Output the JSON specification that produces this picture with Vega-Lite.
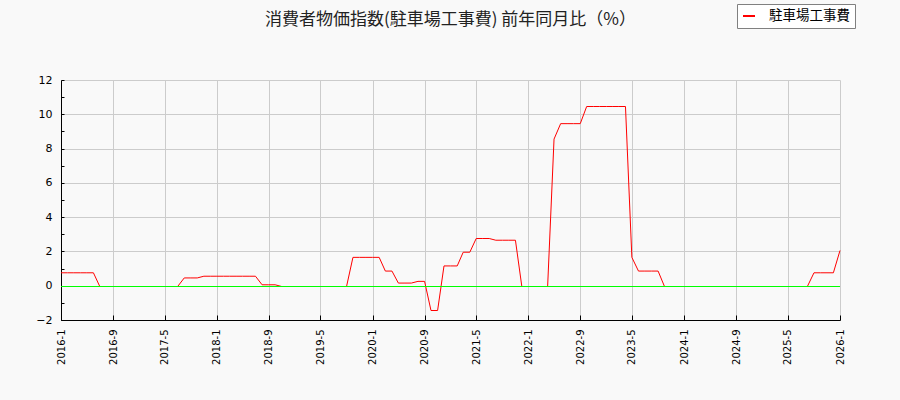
{
  "$schema": "https://vega.github.io/schema/vega-lite/v6.json",
  "width": 779,
  "height": 240,
  "autosize": "none",
  "padding": {"left": 61, "top": 80, "right": 60, "bottom": 80},
  "background": "#f9f9f9",
  "title": {
    "text": "消費者物価指数(駐車場工事費) 前年同月比（%）",
    "font": "Noto Sans CJK JP",
    "fontSize": 17,
    "fontWeight": "normal",
    "color": "#222222",
    "anchor": "middle",
    "offset": 0,
    "dy": 25
  },
  "config": {
    "view": {"stroke": null},
    "axis": {
      "labelFont": "DejaVu Sans",
      "labelColor": "#000000",
      "domainColor": "#000000",
      "tickColor": "#000000",
      "gridColor": "#cccccc",
      "gridWidth": 1,
      "titleFont": "DejaVu Sans"
    }
  },
  "data": {
    "values": [
      {"date": "2016/01/01", "value": 0.8},
      {"date": "2016/02/01", "value": 0.8},
      {"date": "2016/03/01", "value": 0.8},
      {"date": "2016/04/01", "value": 0.8},
      {"date": "2016/05/01", "value": 0.8},
      {"date": "2016/06/01", "value": 0.8},
      {"date": "2016/07/01", "value": 0},
      {"date": "2016/08/01", "value": 0},
      {"date": "2016/09/01", "value": 0},
      {"date": "2016/10/01", "value": 0},
      {"date": "2016/11/01", "value": 0},
      {"date": "2016/12/01", "value": 0},
      {"date": "2017/01/01", "value": 0},
      {"date": "2017/02/01", "value": 0},
      {"date": "2017/03/01", "value": 0},
      {"date": "2017/04/01", "value": 0},
      {"date": "2017/05/01", "value": 0},
      {"date": "2017/06/01", "value": 0},
      {"date": "2017/07/01", "value": 0},
      {"date": "2017/08/01", "value": 0.5},
      {"date": "2017/09/01", "value": 0.5},
      {"date": "2017/10/01", "value": 0.5},
      {"date": "2017/11/01", "value": 0.6},
      {"date": "2017/12/01", "value": 0.6},
      {"date": "2018/01/01", "value": 0.6},
      {"date": "2018/02/01", "value": 0.6},
      {"date": "2018/03/01", "value": 0.6},
      {"date": "2018/04/01", "value": 0.6},
      {"date": "2018/05/01", "value": 0.6},
      {"date": "2018/06/01", "value": 0.6},
      {"date": "2018/07/01", "value": 0.6},
      {"date": "2018/08/01", "value": 0.1},
      {"date": "2018/09/01", "value": 0.1},
      {"date": "2018/10/01", "value": 0.1},
      {"date": "2018/11/01", "value": 0},
      {"date": "2018/12/01", "value": 0},
      {"date": "2019/01/01", "value": 0},
      {"date": "2019/02/01", "value": 0},
      {"date": "2019/03/01", "value": 0},
      {"date": "2019/04/01", "value": 0},
      {"date": "2019/05/01", "value": 0},
      {"date": "2019/06/01", "value": 0},
      {"date": "2019/07/01", "value": 0},
      {"date": "2019/08/01", "value": 0},
      {"date": "2019/09/01", "value": 0},
      {"date": "2019/10/01", "value": 1.7},
      {"date": "2019/11/01", "value": 1.7},
      {"date": "2019/12/01", "value": 1.7},
      {"date": "2020/01/01", "value": 1.7},
      {"date": "2020/02/01", "value": 1.7},
      {"date": "2020/03/01", "value": 0.9},
      {"date": "2020/04/01", "value": 0.9},
      {"date": "2020/05/01", "value": 0.2},
      {"date": "2020/06/01", "value": 0.2},
      {"date": "2020/07/01", "value": 0.2},
      {"date": "2020/08/01", "value": 0.3},
      {"date": "2020/09/01", "value": 0.3},
      {"date": "2020/10/01", "value": -1.4},
      {"date": "2020/11/01", "value": -1.4},
      {"date": "2020/12/01", "value": 1.2},
      {"date": "2021/01/01", "value": 1.2},
      {"date": "2021/02/01", "value": 1.2},
      {"date": "2021/03/01", "value": 2.0},
      {"date": "2021/04/01", "value": 2.0},
      {"date": "2021/05/01", "value": 2.8},
      {"date": "2021/06/01", "value": 2.8},
      {"date": "2021/07/01", "value": 2.8},
      {"date": "2021/08/01", "value": 2.7},
      {"date": "2021/09/01", "value": 2.7},
      {"date": "2021/10/01", "value": 2.7},
      {"date": "2021/11/01", "value": 2.7},
      {"date": "2021/12/01", "value": 0},
      {"date": "2022/01/01", "value": 0},
      {"date": "2022/02/01", "value": 0},
      {"date": "2022/03/01", "value": 0},
      {"date": "2022/04/01", "value": 0},
      {"date": "2022/05/01", "value": 8.6},
      {"date": "2022/06/01", "value": 9.5},
      {"date": "2022/07/01", "value": 9.5},
      {"date": "2022/08/01", "value": 9.5},
      {"date": "2022/09/01", "value": 9.5},
      {"date": "2022/10/01", "value": 10.5},
      {"date": "2022/11/01", "value": 10.5},
      {"date": "2022/12/01", "value": 10.5},
      {"date": "2023/01/01", "value": 10.5},
      {"date": "2023/02/01", "value": 10.5},
      {"date": "2023/03/01", "value": 10.5},
      {"date": "2023/04/01", "value": 10.5},
      {"date": "2023/05/01", "value": 1.7},
      {"date": "2023/06/01", "value": 0.9},
      {"date": "2023/07/01", "value": 0.9},
      {"date": "2023/08/01", "value": 0.9},
      {"date": "2023/09/01", "value": 0.9},
      {"date": "2023/10/01", "value": 0},
      {"date": "2023/11/01", "value": 0},
      {"date": "2023/12/01", "value": 0},
      {"date": "2024/01/01", "value": 0},
      {"date": "2024/02/01", "value": 0},
      {"date": "2024/03/01", "value": 0},
      {"date": "2024/04/01", "value": 0},
      {"date": "2024/05/01", "value": 0},
      {"date": "2024/06/01", "value": 0},
      {"date": "2024/07/01", "value": 0},
      {"date": "2024/08/01", "value": 0},
      {"date": "2024/09/01", "value": 0},
      {"date": "2024/10/01", "value": 0},
      {"date": "2024/11/01", "value": 0},
      {"date": "2024/12/01", "value": 0},
      {"date": "2025/01/01", "value": 0},
      {"date": "2025/02/01", "value": 0},
      {"date": "2025/03/01", "value": 0},
      {"date": "2025/04/01", "value": 0},
      {"date": "2025/05/01", "value": 0},
      {"date": "2025/06/01", "value": 0},
      {"date": "2025/07/01", "value": 0},
      {"date": "2025/08/01", "value": 0},
      {"date": "2025/09/01", "value": 0.8},
      {"date": "2025/10/01", "value": 0.8},
      {"date": "2025/11/01", "value": 0.8},
      {"date": "2025/12/01", "value": 0.8},
      {"date": "2026/01/01", "value": 2.1}
    ]
  },
  "layer": [
    {
      "mark": {"type": "line", "strokeWidth": 1, "interpolate": "linear", "yOffset": 0.79},
      "encoding": {
        "x": {
          "field": "date",
          "type": "temporal",
          "scale": {"domain": [{"year": 2016, "month": 1, "date": 1}, {"year": 2026, "month": 1, "date": 1}], "nice": false},
          "axis": {
            "title": null,
            "values": [
              {"year": 2016, "month": 1, "date": 1},
              {"year": 2016, "month": 9, "date": 1},
              {"year": 2017, "month": 5, "date": 1},
              {"year": 2018, "month": 1, "date": 1},
              {"year": 2018, "month": 9, "date": 1},
              {"year": 2019, "month": 5, "date": 1},
              {"year": 2020, "month": 1, "date": 1},
              {"year": 2020, "month": 9, "date": 1},
              {"year": 2021, "month": 5, "date": 1},
              {"year": 2022, "month": 1, "date": 1},
              {"year": 2022, "month": 9, "date": 1},
              {"year": 2023, "month": 5, "date": 1},
              {"year": 2024, "month": 1, "date": 1},
              {"year": 2024, "month": 9, "date": 1},
              {"year": 2025, "month": 5, "date": 1},
              {"year": 2026, "month": 1, "date": 1}
            ],
            "tickCount": 40,
            "format": "%Y-%-m",
            "labelAngle": -90,
            "labelAlign": "right",
            "labelBaseline": "middle",
            "labelFontSize": 10,
            "labelPadding": 14,
            "labelFlush": false,
            "labelOverlap": false,
            "tickSize": -5,
            "grid": true
          }
        },
        "y": {
          "field": "value",
          "type": "quantitative",
          "scale": {"domain": [-2, 12], "nice": false, "zero": false},
          "axis": {
            "title": null,
            "values": [-2, -1, 0, 1, 2, 3, 4, 5, 6, 7, 8, 9, 10, 11, 12],
            "tickCount": 40,
            "format": "d",
            "labelExpr": "datum.value % 2 === 0 ? datum.label : ''",
            "labelOverlap": false,
            "labelFlush": false,
            "gridOpacity": {"condition": {"test": "datum.value % 2 !== 0", "value": 0}, "value": 1},
            "tickSize": -3,
            "labelFontSize": 11,
            "labelPadding": 12,
            "grid": true
          }
        },
        "color": {
          "field": "series",
          "type": "nominal",
          "scale": {"domain": ["駐車場工事費"], "range": ["#ff0000"]},
          "legend": {
            "title": null,
            "orient": "none",
            "legendX": 676,
            "legendY": -76,
            "strokeColor": "#808080",
            "fillColor": "#ffffff",
            "padding": 5,
            "symbolType": "stroke",
            "symbolSize": 144,
            "symbolStrokeWidth": 2,
            "labelFont": "Noto Sans CJK JP",
            "labelFontSize": 13.5,
            "labelColor": "#000000",
            "labelOffset": 13
          }
        }
      },
      "transform": [{"calculate": "'駐車場工事費'", "as": "series"}]
    },
    {
      "mark": {"type": "rule", "color": "#00ff00", "strokeWidth": 1, "yOffset": 0.79},
      "encoding": {"y": {"datum": 0}}
    }
  ]
}
